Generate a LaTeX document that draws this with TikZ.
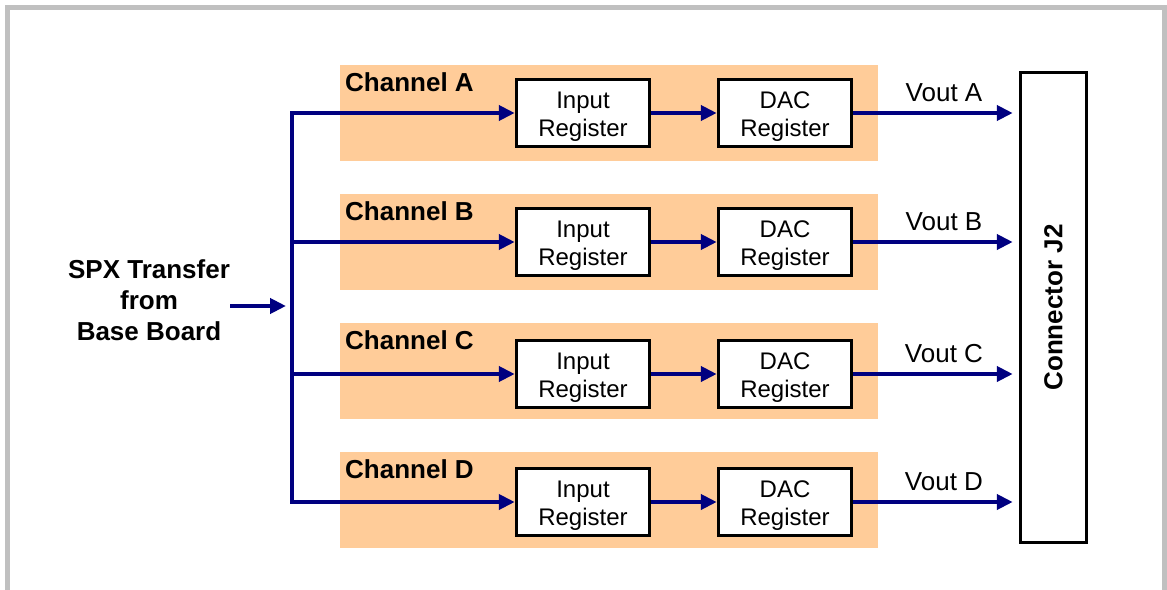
\documentclass[tikz,border=0pt]{standalone}
\usepackage{fontspec}
\setmainfont{Liberation Sans}
\usetikzlibrary{arrows.meta}

\definecolor{framegray}{RGB}{192,192,192}
\definecolor{bandorange}{RGB}{255,204,153}
\definecolor{wirenavy}{RGB}{0,0,128}

% taller first line, so the two lines sit a little lower in the box
\newcommand{\regtop}{\rule{0pt}{23.5pt}}

\tikzset{
    band/.style={fill=bandorange, draw=none, minimum width=538pt, minimum height=96pt, anchor=north west, inner sep=0},
    regbox/.style={draw=black, line width=3.5pt, fill=white, minimum width=133pt, minimum height=67pt, inner sep=0, align=center, font=\fontsize{24}{28}\selectfont},
    wire/.style={draw=wirenavy, line width=4.5pt, -{Triangle[length=16pt, width=15pt]}},
    chlabel/.style={anchor=base west, inner sep=0, font=\fontsize{26}{31}\selectfont\bfseries},
    voutlabel/.style={anchor=base, inner sep=0, font=\fontsize{26}{31}\selectfont}
}

\begin{document}
\begin{tikzpicture}[x=1pt, y=-1pt]
\useasboundingbox (0,0) rectangle (1167,589);

% Frame (open at the bottom)
\draw[framegray, line width=5pt] (7.5,600) -- (7.5,7.5) -- (1164.5,7.5) -- (1164.5,600);

% Source
\node[align=center, inner sep=0, font=\fontsize{26}{31}\selectfont\bfseries] (spx) at (149,300) {SPX Transfer\\from\\Base Board};

% Connector
\node[draw=black, line width=3.5pt, fill=white, minimum width=66pt, minimum height=470pt, inner sep=0] (conn) at (1053.5,307.5) {};
\node[rotate=90, inner sep=0, font=\fontsize{26}{31}\selectfont\bfseries] (connlabel) at (conn.center) {Connector J2};

% Channels
\foreach \c/\t/\y in {A/65/113, B/194/242, C/323/374, D/452/502} {
    \node[band] (band\c) at (340,\t) {};
    \node[chlabel] (ch\c) at (345,\t+26) {Channel \c};
    \node[regbox] (in\c) at (583,\y) {\regtop Input\\Register};
    \node[regbox] (dac\c) at (785,\y) {\regtop DAC\\Register};
    \draw[wire] (in\c.east) -- (dac\c.west);
    \draw[wire, shorten >=6pt] (dac\c.east) -- (conn.west |- dac\c.east);
    \node[voutlabel] (vout\c) at (944,\y-12) {Vout \c};
}

% Bus
\coordinate (bustop) at (292,113);
\coordinate (busbot) at (292,502);
\coordinate (spxin) at (286,306);
\draw[wire, {Triangle[length=16pt, width=15pt]}-{Triangle[length=16pt, width=15pt]}] (inA.west) -- (bustop) -- (busbot) -- (inD.west);
\draw[wire] (bustop |- inB.west) -- (inB.west);
\draw[wire] (bustop |- inC.west) -- (inC.west);
\draw[wire] (spx.east |- spxin) -- (spxin);

\end{tikzpicture}
\end{document}
